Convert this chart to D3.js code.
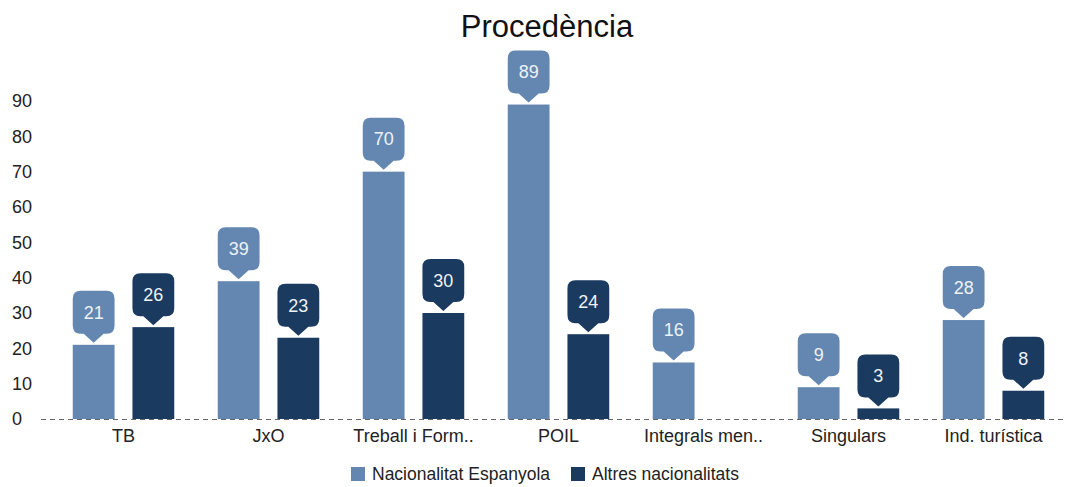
<!DOCTYPE html>
<html>
<head>
<meta charset="utf-8">
<script src="https://cdn.jsdelivr.net/npm/d3@7"></script>
<style>
  body { margin: 0; background: #fff; }
  svg { display: block; font-family: "Liberation Sans", Arial, sans-serif; }
</style>
</head>
<body>
<svg id="chart" width="1068" height="487"></svg>
<script>
var categories = ["TB", "JxO", "Treball i Form..", "POIL", "Integrals men..", "Singulars", "Ind. turística"];
var espanyola = [21, 39, 70, 89, 16, 9, 28];
var altres = [26, 23, 30, 24, null, 3, 8];
var seriesNames = ["Nacionalitat Espanyola", "Altres nacionalitats"];
var yTicks = [0, 10, 20, 30, 40, 50, 60, 70, 80, 90];

var colors = ["#6387b0", "#1b3a5f"];

var svg = d3.select("#chart");
var width = 1068, height = 487;

var x = d3.scaleBand()
    .domain(categories)
    .range([51, 1066])
    .paddingInner(0.3)
    .paddingOuter(0.15);

var xInner = d3.scaleBand()
    .domain(seriesNames)
    .range([0, x.bandwidth()])
    .paddingInner(0.3);

var y = d3.scaleLinear()
    .domain([0, 90])
    .range([419, 101]);

// title
svg.append("text")
    .attr("x", 547)
    .attr("y", 37)
    .attr("text-anchor", "middle")
    .style("font-size", "31px")
    .style("fill", "#111")
    .text("Procedència");

// y axis labels (no axis line)
var yAxis = svg.append("g")
    .attr("transform", "translate(12,0)")
    .call(d3.axisRight(y).tickValues(yTicks).tickSize(0).tickPadding(0));
yAxis.select(".domain").remove();
yAxis.selectAll("text")
    .style("font-size", "18px")
    .style("font-family", "Liberation Sans, Arial, sans-serif")
    .style("fill", "#222");

// x axis labels
var xAxis = svg.append("g")
    .attr("transform", "translate(0,419)")
    .call(d3.axisBottom(x).tickSize(0).tickPadding(10));
xAxis.select(".domain").remove();
xAxis.selectAll("text")
    .style("font-size", "18px")
    .style("font-family", "Liberation Sans, Arial, sans-serif")
    .style("fill", "#222");

var rows = categories.map(function(c, i) {
    return [
        {cat: c, key: seriesNames[0], value: espanyola[i], color: colors[0]},
        {cat: c, key: seriesNames[1], value: altres[i], color: colors[1]}
    ];
});

var groups = svg.append("g").selectAll("g")
    .data(rows)
    .join("g")
    .attr("transform", d => "translate(" + x(d[0].cat) + ",0)");

var bars = groups.selectAll("g.bar")
    .data(d => d.filter(e => e.value != null))
    .join("g")
    .attr("class", "bar");

bars.append("rect")
    .attr("x", d => xInner(d.key))
    .attr("y", d => y(d.value))
    .attr("width", xInner.bandwidth())
    .attr("height", d => y(0) - y(d.value))
    .attr("fill", d => d.color);

// callout label: rounded box with a pointer down to the bar top
function callout(x0, w, tip) {
    var boxH = 43, pH = 9, pW = 10, r = 8;
    var b = tip - pH;
    var t = b - boxH;
    var cx = x0 + w / 2;
    return "M" + (x0 + r) + "," + t +
        "H" + (x0 + w - r) +
        "Q" + (x0 + w) + "," + t + " " + (x0 + w) + "," + (t + r) +
        "V" + (b - r) +
        "Q" + (x0 + w) + "," + b + " " + (x0 + w - r) + "," + b +
        "H" + (cx + pW) +
        "L" + cx + "," + tip +
        "L" + (cx - pW) + "," + b +
        "H" + (x0 + r) +
        "Q" + x0 + "," + b + " " + x0 + "," + (b - r) +
        "V" + (t + r) +
        "Q" + x0 + "," + t + " " + (x0 + r) + "," + t + "Z";
}

bars.append("path")
    .attr("d", d => callout(xInner(d.key), xInner.bandwidth(), y(d.value) - 2))
    .attr("fill", d => d.color);

bars.append("text")
    .attr("x", d => xInner(d.key) + xInner.bandwidth() / 2)
    .attr("y", d => y(d.value) - 2 - 9 - 43 / 2)
    .attr("dy", "0.35em")
    .attr("text-anchor", "middle")
    .style("font-size", "18px")
    .style("fill", "#eef2f7")
    .text(d => d.value);

// dashed baseline
svg.append("line")
    .attr("x1", 41)
    .attr("x2", 1066)
    .attr("y1", y(0) + 0.5)
    .attr("y2", y(0) + 0.5)
    .attr("stroke", "#666")
    .attr("stroke-width", 1)
    .attr("stroke-dasharray", "5,4");

// legend
var legend = svg.append("g").attr("transform", "translate(351,467)");
var legendX = [0, 220];
seriesNames.forEach(function(name, i) {
    var g = legend.append("g").attr("transform", "translate(" + legendX[i] + ",0)");
    g.append("rect")
        .attr("width", 14)
        .attr("height", 14)
        .attr("fill", colors[i]);
    g.append("text")
        .attr("x", 21)
        .attr("y", 7)
        .attr("dy", "0.35em")
        .style("font-size", "17.5px")
        .style("fill", "#222")
        .text(name);
});
</script>
</body>
</html>
